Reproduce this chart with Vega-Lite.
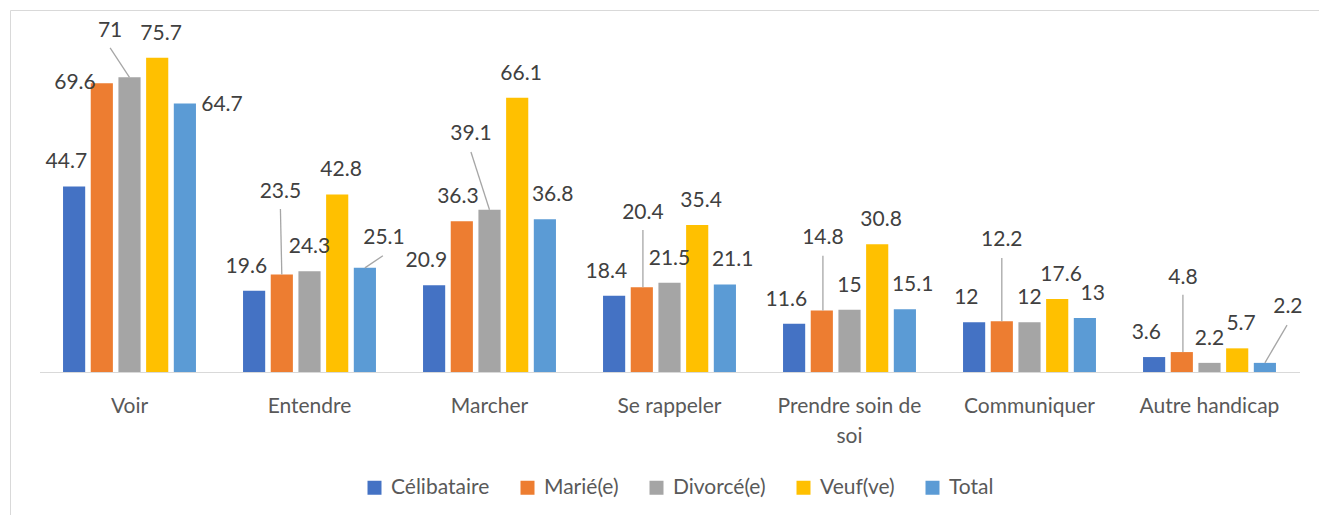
{
  "$schema": "https://vega.github.io/schema/vega-lite/v6.json",
  "width": 1314,
  "height": 510,
  "autosize": {"type": "none"},
  "padding": {"left": 10, "top": 10, "right": -5, "bottom": -5},
  "background": "white",
  "view": {"stroke": "#d9d9d9", "strokeWidth": 1},
  "config": {"font": "Lato"},
  "datasets": {
    "bars": [
      {"category": "Voir", "status": "Célibataire", "value": 44.7},
      {"category": "Voir", "status": "Marié(e)", "value": 69.6},
      {"category": "Voir", "status": "Divorcé(e)", "value": 71},
      {"category": "Voir", "status": "Veuf(ve)", "value": 75.7},
      {"category": "Voir", "status": "Total", "value": 64.7},
      {"category": "Entendre", "status": "Célibataire", "value": 19.6},
      {"category": "Entendre", "status": "Marié(e)", "value": 23.5},
      {"category": "Entendre", "status": "Divorcé(e)", "value": 24.3},
      {"category": "Entendre", "status": "Veuf(ve)", "value": 42.8},
      {"category": "Entendre", "status": "Total", "value": 25.1},
      {"category": "Marcher", "status": "Célibataire", "value": 20.9},
      {"category": "Marcher", "status": "Marié(e)", "value": 36.3},
      {"category": "Marcher", "status": "Divorcé(e)", "value": 39.1},
      {"category": "Marcher", "status": "Veuf(ve)", "value": 66.1},
      {"category": "Marcher", "status": "Total", "value": 36.8},
      {"category": "Se rappeler", "status": "Célibataire", "value": 18.4},
      {"category": "Se rappeler", "status": "Marié(e)", "value": 20.4},
      {"category": "Se rappeler", "status": "Divorcé(e)", "value": 21.5},
      {"category": "Se rappeler", "status": "Veuf(ve)", "value": 35.4},
      {"category": "Se rappeler", "status": "Total", "value": 21.1},
      {"category": "Prendre soin de soi", "status": "Célibataire", "value": 11.6},
      {"category": "Prendre soin de soi", "status": "Marié(e)", "value": 14.8},
      {"category": "Prendre soin de soi", "status": "Divorcé(e)", "value": 15},
      {"category": "Prendre soin de soi", "status": "Veuf(ve)", "value": 30.8},
      {"category": "Prendre soin de soi", "status": "Total", "value": 15.1},
      {"category": "Communiquer", "status": "Célibataire", "value": 12},
      {"category": "Communiquer", "status": "Marié(e)", "value": 12.2},
      {"category": "Communiquer", "status": "Divorcé(e)", "value": 12},
      {"category": "Communiquer", "status": "Veuf(ve)", "value": 17.6},
      {"category": "Communiquer", "status": "Total", "value": 13},
      {"category": "Autre handicap", "status": "Célibataire", "value": 3.6},
      {"category": "Autre handicap", "status": "Marié(e)", "value": 4.8},
      {"category": "Autre handicap", "status": "Divorcé(e)", "value": 2.2},
      {"category": "Autre handicap", "status": "Veuf(ve)", "value": 5.7},
      {"category": "Autre handicap", "status": "Total", "value": 2.2}
    ],
    "moved_labels": [
      {"category": "Voir", "status": "Marié(e)", "value": 69.6, "lx": -1.97, "ly": 69.6},
      {"category": "Voir", "status": "Divorcé(e)", "value": 71, "lx": -0.7, "ly": 82.2},
      {"category": "Voir", "status": "Total", "value": 64.7, "lx": 3.34, "ly": 64.3},
      {"category": "Entendre", "status": "Marié(e)", "value": 23.5, "lx": -1.05, "ly": 43.4},
      {"category": "Entendre", "status": "Total", "value": 25.1, "lx": 2.69, "ly": 32.3},
      {"category": "Marcher", "status": "Divorcé(e)", "value": 39.1, "lx": -0.67, "ly": 57.3},
      {"category": "Se rappeler", "status": "Marié(e)", "value": 20.4, "lx": -0.96, "ly": 38.3},
      {"category": "Prendre soin de soi", "status": "Marié(e)", "value": 14.8, "lx": -0.96, "ly": 32.3},
      {"category": "Communiquer", "status": "Marié(e)", "value": 12.2, "lx": -1, "ly": 31.8},
      {"category": "Autre handicap", "status": "Marié(e)", "value": 4.8, "lx": -0.96, "ly": 22.7},
      {"category": "Autre handicap", "status": "Total", "value": 2.2, "lx": 2.83, "ly": 15.7}
    ],
    "leaders": [
      {"leader": "L1", "category": "Voir", "off": -0.7, "v": 78.1},
      {"leader": "L1", "category": "Voir", "off": 0, "v": 71},
      {"leader": "L2", "category": "Entendre", "off": -1.05, "v": 39.3},
      {"leader": "L2", "category": "Entendre", "off": -1, "v": 23.5},
      {"leader": "L3", "category": "Marcher", "off": -0.67, "v": 53.0},
      {"leader": "L3", "category": "Marcher", "off": 0, "v": 39.1},
      {"leader": "L4", "category": "Entendre", "off": 2.65, "v": 28.0},
      {"leader": "L4", "category": "Entendre", "off": 2, "v": 25.1},
      {"leader": "L5", "category": "Se rappeler", "off": -0.96, "v": 34.2},
      {"leader": "L5", "category": "Se rappeler", "off": -0.96, "v": 20.4},
      {"leader": "L6", "category": "Prendre soin de soi", "off": -0.96, "v": 28.0},
      {"leader": "L6", "category": "Prendre soin de soi", "off": -0.96, "v": 14.8},
      {"leader": "L7", "category": "Communiquer", "off": -1, "v": 27.5},
      {"leader": "L7", "category": "Communiquer", "off": -1, "v": 12.2},
      {"leader": "L8", "category": "Autre handicap", "off": -0.96, "v": 18.6},
      {"leader": "L8", "category": "Autre handicap", "off": -0.96, "v": 4.8},
      {"leader": "L9", "category": "Autre handicap", "off": 2.8, "v": 11.3},
      {"leader": "L9", "category": "Autre handicap", "off": 2, "v": 2.2}
    ]
  },
  "layer": [
    {
      "data": {"name": "bars"},
      "mark": {"type": "bar"},
      "encoding": {
        "x": {
          "field": "category", "type": "nominal",
          "scale": {"domain": ["Voir", "Entendre", "Marcher", "Se rappeler", "Prendre soin de soi", "Communiquer", "Autre handicap"], "range": [29.5, 1289.5], "paddingInner": 0, "paddingOuter": 0},
          "axis": {
            "orient": "bottom", "offset": -148, "title": null, "ticks": false, "grid": false,
            "domainColor": "#d9d9d9", "domainWidth": 1.2,
            "labelAngle": 0, "labelFont": "Lato", "labelFontSize": 21, "labelColor": "#595959",
            "labelPadding": 23, "labelBaseline": "top", "labelLineHeight": 30, "labelLimit": 300,
            "labelExpr": "datum.label == 'Prendre soin de soi' ? ['Prendre soin de', 'soi'] : datum.label"
          }
        },
        "xOffset": {
          "field": "status", "type": "nominal",
          "scale": {"domain": ["Célibataire", "Marié(e)", "Divorcé(e)", "Veuf(ve)", "Total"], "paddingInner": 0.2, "paddingOuter": 0.85}
        },
        "y": {
          "field": "value", "type": "quantitative",
          "scale": {"domain": [0, 80], "range": [362, 30], "nice": false, "zero": true},
          "axis": null
        },
        "color": {
          "field": "status", "type": "nominal",
          "scale": {"domain": ["Célibataire", "Marié(e)", "Divorcé(e)", "Veuf(ve)", "Total"], "range": ["#4472C4", "#ED7D31", "#A5A5A5", "#FFC000", "#5B9BD5"]},
          "legend": {
            "orient": "none", "legendX": 354, "legendY": 467, "direction": "horizontal", "columns": 5,
            "title": null, "symbolType": "square", "symbolSize": 196, "symbolStrokeWidth": 0, "symbolOpacity": 1,
            "labelFont": "Lato", "labelFontSize": 21, "labelColor": "#595959", "labelOffset": 6,
            "columnPadding": 27, "padding": 0, "labelLimit": 300
          }
        }
      }
    },
    {
      "data": {"name": "bars"},
      "transform": [
        {"filter": "indexof(['Voir|Marié(e)', 'Voir|Divorcé(e)', 'Voir|Total', 'Entendre|Marié(e)', 'Entendre|Total', 'Marcher|Divorcé(e)', 'Se rappeler|Marié(e)', 'Prendre soin de soi|Marié(e)', 'Communiquer|Marié(e)', 'Autre handicap|Marié(e)', 'Autre handicap|Total'], datum.category + '|' + datum.status) < 0"}
      ],
      "mark": {"type": "text", "baseline": "middle", "align": "center", "dy": -24, "fontSize": 21, "font": "Lato", "fill": "#404040"},
      "encoding": {
        "x": {"field": "category", "type": "nominal", "scale": {"domain": ["Voir", "Entendre", "Marcher", "Se rappeler", "Prendre soin de soi", "Communiquer", "Autre handicap"], "range": [29.5, 1289.5], "paddingInner": 0, "paddingOuter": 0}},
        "xOffset": {"field": "status", "type": "nominal", "scale": {"domain": ["Célibataire", "Marié(e)", "Divorcé(e)", "Veuf(ve)", "Total"], "paddingInner": 0.2, "paddingOuter": 0.85}},
        "y": {"field": "value", "type": "quantitative", "scale": {"domain": [0, 80], "range": [362, 30], "nice": false}, "axis": null},
        "text": {"field": "value", "type": "quantitative", "format": "~g"}
      }
    },
    {
      "data": {"name": "leaders"},
      "mark": {"type": "line", "stroke": "#a6a6a6", "strokeWidth": 1.3},
      "encoding": {
        "x": {"field": "category", "type": "nominal", "scale": {"domain": ["Voir", "Entendre", "Marcher", "Se rappeler", "Prendre soin de soi", "Communiquer", "Autre handicap"], "range": [29.5, 1289.5], "paddingInner": 0, "paddingOuter": 0}},
        "xOffset": {"field": "off", "type": "quantitative", "scale": {"domain": [-3.25, 3.25], "range": [0, 180], "nice": false, "zero": false}},
        "y": {"field": "v", "type": "quantitative", "scale": {"domain": [0, 80], "range": [362, 30], "nice": false}, "axis": null},
        "detail": {"field": "leader", "type": "nominal"}
      }
    },
    {
      "data": {"name": "moved_labels"},
      "mark": {"type": "text", "baseline": "middle", "align": "center", "fontSize": 21, "font": "Lato", "fill": "#404040"},
      "encoding": {
        "x": {"field": "category", "type": "nominal", "scale": {"domain": ["Voir", "Entendre", "Marcher", "Se rappeler", "Prendre soin de soi", "Communiquer", "Autre handicap"], "range": [29.5, 1289.5], "paddingInner": 0, "paddingOuter": 0}},
        "xOffset": {"field": "lx", "type": "quantitative", "scale": {"domain": [-3.25, 3.25], "range": [0, 180], "nice": false, "zero": false}},
        "y": {"field": "ly", "type": "quantitative", "scale": {"domain": [0, 80], "range": [362, 30], "nice": false}, "axis": null},
        "text": {"field": "value", "type": "quantitative", "format": "~g"}
      }
    }
  ],
  "resolve": {"scale": {"xOffset": "independent"}}
}
